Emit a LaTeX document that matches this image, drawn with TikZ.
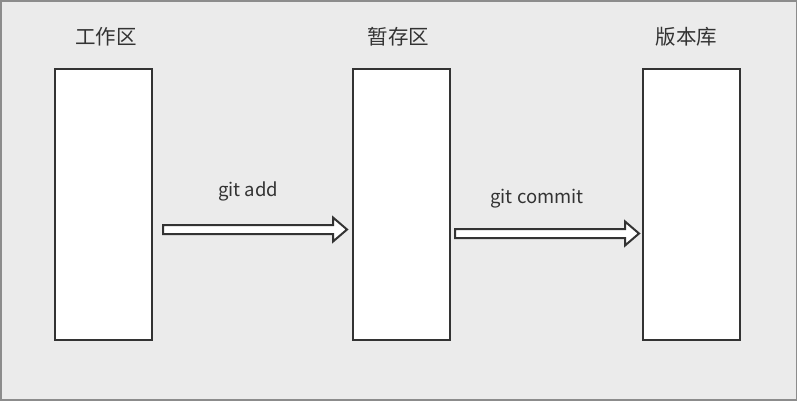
\documentclass[tikz,border=0pt]{standalone}
\usepackage{fontspec}
\setmainfont{Noto Sans CJK SC}
\usetikzlibrary{calc,backgrounds}
\definecolor{bggray}{HTML}{EBEBEB}
\definecolor{framegray}{HTML}{8C8C8C}
\definecolor{inkgray}{HTML}{333333}
\tikzset{
    area/.style = {draw=inkgray, fill=white, line width=2pt, rectangle,
        minimum width=97pt, minimum height=271pt, inner sep=0pt},
    title/.style = {text=inkgray, font=\fontsize{20.5}{24}\selectfont},
    cmd/.style = {text=inkgray, font=\fontsize{18.5}{22}\selectfont},
    hollow/.style = {draw=inkgray, fill=white, line width=2pt, line join=miter}
}
\newcommand{\hollowarrow}[2]{%
    \draw [hollow] ($(#1)+(0,-4.5)$) -- ($(#2)+(-14,-4.5)$) -- ($(#2)+(-14,-12)$)
        -- (#2) -- ($(#2)+(-14,12)$) -- ($(#2)+(-14,4.5)$) -- ($(#1)+(0,4.5)$) -- cycle;}

\begin{document}
\begin{tikzpicture}[x=1pt, y=-1pt]
    \fill [framegray] (0,0) rectangle (797,401);
    \fill [bggray] (1.5,2) rectangle (795.5,399);
    \useasboundingbox (0,0) rectangle (797,401);
    \node [area] at (103.5,204.5) (work) {};
    \node [area, right of=work, node distance=298pt] (stage) {};
    \node [area, right of=stage, node distance=290pt] (repo) {};
    \node [title, above of=work, node distance=168pt, xshift=2.5pt] {工作区};
    \node [title, above of=stage, node distance=168pt, xshift=-3pt] {暂存区};
    \node [title, above of=repo, node distance=168pt, xshift=-5pt] {版本库};
    % add: working tree -> index
    \coordinate (addfrom) at ($(work.east)+(10,25)$);
    \coordinate (addto) at ($(stage.west)+(-5,25)$);
    \hollowarrow{addfrom}{addto}
    \node [cmd] at (248,191) (add) {git add};
    % commit: index -> repository
    \coordinate (cmtfrom) at ($(stage.east)+(4,29)$);
    \coordinate (cmtto) at ($(repo.west)+(-3,29)$);
    \hollowarrow{cmtfrom}{cmtto}
    \node [cmd] at (537,199) (commit) {git commit};
\end{tikzpicture}
\end{document}
